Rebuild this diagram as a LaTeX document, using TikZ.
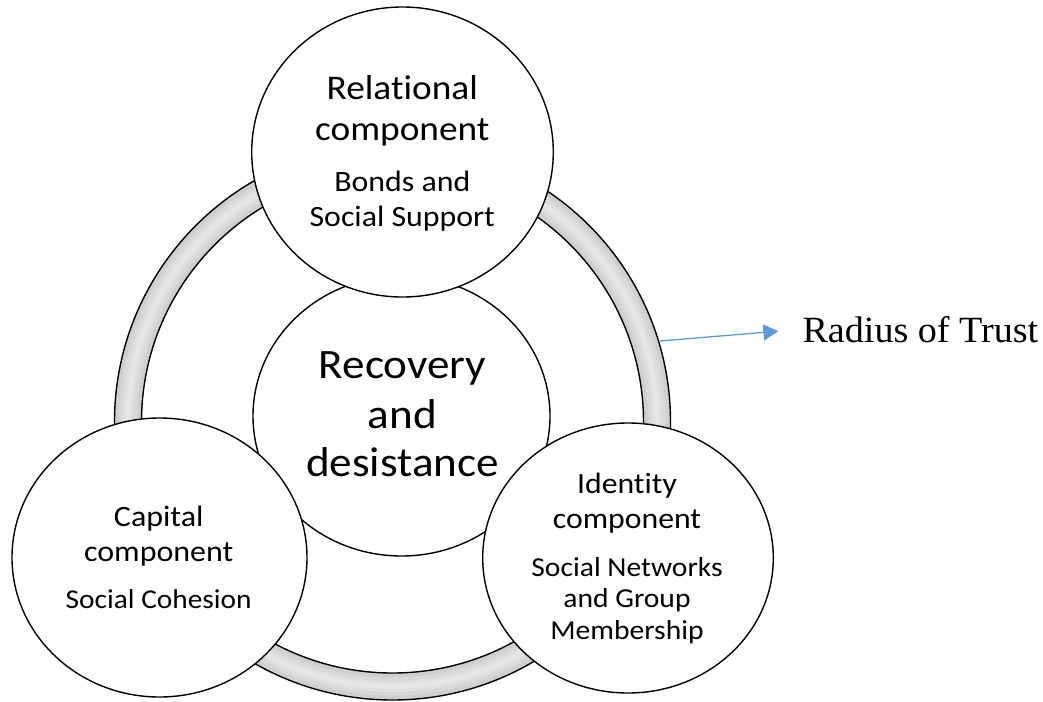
\documentclass[tikz,border=0pt]{standalone}
\usepackage{fontspec}
\setmainfont{Carlito}
\newfontfamily\calib[FakeStretch=1.08,Ligatures=NoCommon]{Carlito}
\newfontfamily\timesf[FakeStretch=1.03]{Liberation Serif}
\usetikzlibrary{shapes.geometric,arrows.meta}
\definecolor{ringfill}{HTML}{CFCFCF}
\definecolor{ringhlA}{HTML}{D8D8D8}
\definecolor{ringhlB}{HTML}{DFDFDF}
\definecolor{ringhlC}{HTML}{E6E6E6}
\definecolor{arrowblue}{HTML}{5B9BD5}
\begin{document}
\begin{tikzpicture}[x=1pt,y=-1pt,
  bubble/.style={ellipse, draw=black, line width=1.4pt, fill=white, inner sep=0pt},
  txt/.style={anchor=base, inner sep=0pt},
  head/.style={txt, font=\calib\fontsize{#1}{#1}\selectfont},
  sub/.style={txt, font=\calib\fontsize{#1}{#1}\selectfont},
  trusttext/.style={anchor=base west, inner sep=0pt, font=\timesf\fontsize{37}{42}\selectfont},
  trustarrow/.style={draw=arrowblue, line width=1.3pt, -{Triangle[length=15pt,width=16pt]}, shorten >=24pt}
]
\useasboundingbox (0,0) rectangle (1043,701);

% ring
\coordinate (ringc) at (392.5,422);
\path[fill=ringfill, even odd rule] (ringc) circle[radius=278] (ringc) circle[radius=251];
\draw[ringhlA, line width=18pt] (ringc) circle[radius=264.5];
\draw[ringhlB, line width=11pt] (ringc) circle[radius=264.5];
\draw[ringhlC, line width=5pt] (ringc) circle[radius=264.5];
\draw[line width=1.4pt] (ringc) circle[radius=278] (ringc) circle[radius=251];

% radius of trust
\coordinate (ringpt) at (660,341);
\node[trusttext] (trust) at (802.3,342) {Radius of Trust};
\draw[trustarrow] (ringpt) -- (trust.west);

% circles
\node[bubble, minimum width=297pt, minimum height=280pt] (center) at (401.5,416) {};
\node[bubble, minimum width=301.6pt, minimum height=290pt] (rel) at (402.5,152) {};
\node[bubble, minimum width=295pt, minimum height=279pt] (cap) at (159.5,557.5) {};
\node[bubble, minimum width=290.6pt, minimum height=270pt] (ide) at (628,558) {};

% center text
\node[head=41.8] (c1) at (402.5,378.3) {Recovery};
\node[head=41.8] (c2) at (402.5,428.3) {and};
\node[head=41.8] (c3) at (402.5,476.7) {desistance};

% relational
\node[head=34.6] (r1) at (402.3,99.3) {Relational};
\node[head=34.6] (r2) at (402.3,140) {component};
\node[sub=29.5] (r3) at (402.3,191.7) {Bonds and};
\node[sub=29.5] (r4) at (402.3,226.7) {Social Support};

% capital
\node[head=29.6] (k1) at (158.7,526.7) {Capital};
\node[head=29.6] (k2) at (158.7,561.7) {component};
\node[sub=27.2] (k3) at (158.7,608.3) {Social Cohesion};

% identity
\node[head=29.4] (i1) at (627,493) {Identity};
\node[head=29.4] (i2) at (627,528) {component};
\node[sub=27.4] (i3) at (627,576) {Social Networks};
\node[sub=27.4] (i4) at (627,607.7) {and Group};
\node[sub=27.4] (i5) at (627,639.3) {Membership};
\end{tikzpicture}
\end{document}
